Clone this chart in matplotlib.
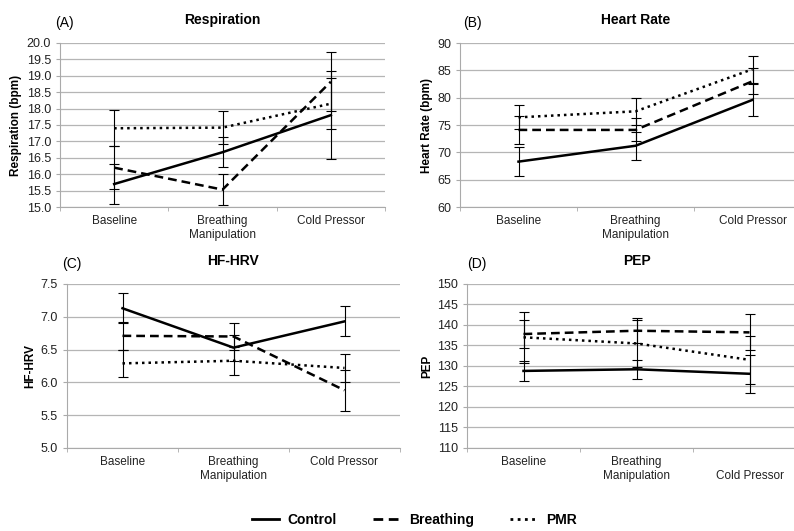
import numpy as np
import matplotlib.pyplot as plt
from matplotlib.lines import Line2D

plt.rcParams['font.family'] = ['Liberation Sans', 'DejaVu Sans']

conditions = ['Baseline', 'Breathing\nManipulation', 'Cold Pressor']
conditions_d = ['Baseline', 'Breathing\nManipulation', '\nCold Pressor']
groups = ['Control', 'Breathing', 'PMR']

resp_mean = {'Control': [15.70, 16.67, 17.80], 'Breathing': [16.20, 15.53, 18.82], 'PMR': [17.40, 17.42, 18.15]}
resp_err = {'Control': [0.60, 0.45, 1.35], 'Breathing': [0.65, 0.47, 0.90], 'PMR': [0.55, 0.51, 0.78]}

hr_mean = {'Control': [68.3, 71.2, 79.6], 'Breathing': [74.1, 74.1, 83.0], 'PMR': [76.4, 77.5, 85.2]}
hr_err = {'Control': [2.6, 2.6, 2.9], 'Breathing': [2.6, 2.1, 2.4], 'PMR': [2.2, 2.5, 2.5]}

hrv_mean = {'Control': [7.13, 6.53, 6.93], 'Breathing': [6.71, 6.70, 5.88], 'PMR': [6.29, 6.33, 6.22]}
hrv_err = {'Control': [0.23, 0.20, 0.23], 'Breathing': [0.21, 0.21, 0.31], 'PMR': [0.21, 0.21, 0.21]}

pep_mean = {'Control': [128.8, 129.2, 128.1], 'Breathing': [137.8, 138.6, 138.2], 'PMR': [137.0, 135.5, 131.5]}
pep_err = {'Control': [2.5, 2.3, 4.6], 'Breathing': [3.4, 3.0, 4.4], 'PMR': [6.2, 5.7, 5.9]}

styles = {'Control': dict(linestyle='-'),
          'Breathing': dict(linestyle=(0, (3.5, 2))),
          'PMR': dict(linestyle=(0, (1, 1.6)))}

panels = [
    # tag, title, ylabel, means, errs, ylim, yticks, fmt, xlabels, tag x, axes rect
    ('(A)', 'Respiration', 'Respiration (bpm)', resp_mean, resp_err, (15, 20), np.arange(15, 20.01, 0.5), '%.1f',
     conditions, -0.015, [60/794, 1-207/531, 325/794, 164/531]),
    ('(B)', 'Heart Rate', 'Heart Rate (bpm)', hr_mean, hr_err, (60, 90), np.arange(60, 91, 5), '%d',
     conditions, 0.01, [460/794, 1-207/531, 351/794, 164/531]),
    ('(C)', 'HF-HRV', 'HF-HRV', hrv_mean, hrv_err, (5, 7.5), np.arange(5, 7.51, 0.5), '%.1f',
     conditions, -0.015, [67/794, 1-448/531, 333/794, 164/531]),
    ('(D)', 'PEP', 'PEP', pep_mean, pep_err, (110, 150), np.arange(110, 151, 5), '%d',
     conditions_d, 0.0, [467/794, 1-448/531, 339/794, 164/531]),
]

fig = plt.figure(figsize=(7.94, 5.31), dpi=100)
x = np.arange(len(conditions))

for tag, title, ylabel, means, errs, ylim, yticks, fmt, xlabels, tagx, rect in panels:
    ax = fig.add_axes(rect)
    for g in groups:
        ax.errorbar(x, means[g], yerr=errs[g], color='black', lw=1.8, elinewidth=0.8,
                    capsize=3.5, capthick=0.8, **styles[g])
    ax.set_xlim(-0.5, 2.5)
    ax.set_ylim(*ylim)
    ax.set_yticks(yticks)
    ax.set_yticklabels([fmt % v for v in yticks])
    ax.set_xticks(x)
    ax.set_xticklabels(xlabels, fontsize=8.5, color='#222222')
    ax.set_xticks([-0.5, 0.5, 1.5, 2.5], minor=True)
    ax.tick_params(axis='x', which='major', length=0, pad=6)
    ax.tick_params(axis='x', which='minor', length=3, color='#aaaaaa')
    ax.tick_params(axis='y', length=3, color='#aaaaaa', labelsize=9, labelcolor='#222222')
    ax.yaxis.grid(True, color='#b5b5b5', lw=0.9)
    ax.set_axisbelow(True)
    for s in ['top', 'right']:
        ax.spines[s].set_visible(False)
    ax.spines['left'].set_color('#aaaaaa')
    ax.spines['bottom'].set_color('#aaaaaa')
    ax.set_ylabel(ylabel, fontsize=8.5, fontweight='bold', labelpad=3)
    ax.set_title(title, fontsize=10, fontweight='bold', pad=14)
    ax.text(tagx, 1.08, tag, transform=ax.transAxes, fontsize=10, ha='left', va='bottom')

handles = [Line2D([], [], color='black', lw=2, **styles[g]) for g in groups]
leg = fig.legend(handles, groups, loc='center', bbox_to_anchor=(0.522, 1-520/531), ncol=3,
                 frameon=False, handlelength=2, handletextpad=0.6, columnspacing=2.6,
                 prop={'weight': 'bold', 'size': 10})

plt.savefig('out.png', dpi=100)
